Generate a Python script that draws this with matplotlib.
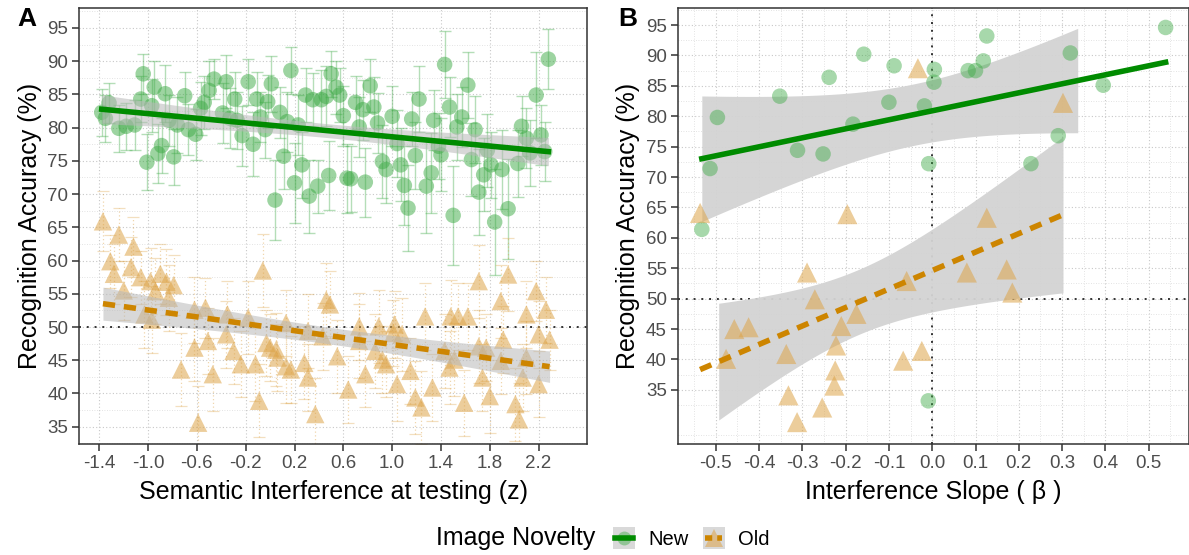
import numpy as np
import matplotlib
matplotlib.use("Agg")
import matplotlib.pyplot as plt
from matplotlib.patches import Rectangle
from matplotlib.lines import Line2D
from matplotlib.legend_handler import HandlerBase

plt.rcParams['font.family'] = ['Liberation Sans', 'DejaVu Sans']

# ---- panel A: item-level accuracy vs semantic interference ----
new_x = [-1.38, -1.32, -1.35, -1.24, -1.18, -1.11, -1.06, -1.04, -1.01, -0.97,
         -0.95, -0.92, -0.89, -0.86, -0.83, -0.79, -0.76, -0.70, -0.67, -0.61,
         -0.57, -0.54, -0.50, -0.46, -0.39, -0.36, -0.33, -0.29, -0.27, -0.23,
         -0.18, -0.14, -0.11, -0.08, -0.04, -0.02, 0.01, 0.04, 0.08, 0.11,
         0.14, 0.17, 0.20, 0.23, 0.26, 0.29, 0.32, 0.35, 0.39, 0.42,
         0.46, 0.48, 0.50, 0.54, 0.57, 0.60, 0.63, 0.66, 0.70, 0.73,
         0.76, 0.78, 0.82, 0.85, 0.88, 0.92, 0.95, 1.00, 1.04, 1.07,
         1.10, 1.13, 1.16, 1.19, 1.22, 1.28, 1.32, 1.34, 1.38, 1.40,
         1.43, 1.47, 1.50, 1.53, 1.57, 1.62, 1.65, 1.68, 1.71, 1.75,
         1.78, 1.81, 1.84, 1.90, 1.95, 2.03, 2.06, 2.10, 2.13, 2.18,
         2.22, 2.25, 2.28]
new_y = [82.3, 83.7, 81.4, 79.9, 80.2, 80.4, 84.3, 88.1, 74.8, 83.3,
         86.1, 76.1, 77.3, 85.1, 81.1, 75.6, 80.4, 84.8, 79.7, 79.0,
         82.9, 83.8, 85.6, 87.3, 82.2, 86.9, 81.4, 84.3, 81.1, 78.8,
         86.9, 77.5, 84.3, 81.6, 79.7, 83.9, 86.6, 69.1, 82.3, 75.7,
         80.9, 88.6, 71.7, 80.4, 74.4, 84.9, 69.7, 84.2, 71.2, 84.2,
         84.7, 72.8, 88.1, 86.1, 84.9, 81.8, 72.4, 72.3, 83.8, 80.1,
         82.7, 71.8, 86.3, 83.1, 80.7, 74.9, 73.7, 81.7, 77.6, 74.4,
         71.3, 67.9, 81.3, 75.8, 84.3, 71.2, 73.2, 81.1, 77.2, 75.9,
         89.5, 83.1, 66.8, 80.1, 81.6, 86.4, 75.2, 79.7, 70.3, 72.9,
         76.6, 74.4, 65.8, 73.7, 67.8, 74.6, 80.2, 78.4, 76.2, 84.9,
         78.9, 76.4, 90.3]
new_err = [3.5, 3.0, 3.5, 3.5, 3.5, 3.8, 3.5, 3.0, 4.2, 4.0,
           4.0, 4.5, 4.2, 4.3, 3.8, 4.2, 4.2, 3.5, 3.8, 3.8,
           4.0, 4.0, 4.5, 3.0, 4.5, 4.0, 4.5, 4.0, 4.3, 4.5,
           3.5, 4.8, 4.0, 3.8, 4.2, 4.0, 4.2, 6.0, 3.8, 5.0,
           4.5, 3.5, 6.0, 4.5, 5.0, 4.0, 5.5, 4.0, 4.0, 4.5,
           4.5, 5.2, 3.5, 4.0, 4.0, 4.5, 5.2, 5.0, 4.0, 4.5,
           4.5, 5.2, 4.0, 4.5, 4.5, 5.5, 5.0, 4.5, 5.0, 5.5,
           6.0, 6.5, 4.0, 5.0, 5.0, 7.0, 6.0, 4.5, 5.0, 5.5,
           5.0, 4.5, 7.5, 5.0, 4.5, 5.0, 5.5, 5.0, 6.5, 5.5,
           5.5, 5.0, 8.0, 6.0, 7.5, 5.0, 4.5, 4.5, 5.0, 6.5,
           4.5, 4.5, 4.5]

old_x = [-1.37, -1.24, -1.12, -0.06, -1.31, -1.28, -1.14, -1.06, -0.98, -0.90,
         -0.85, -0.79, -0.94, -1.20, -0.83, -0.62, -0.53, -0.35, -0.18, 0.13,
         0.46, 0.49, 1.27, 1.48, 1.54, 1.62, 1.89, 2.18, 2.10, 2.26,
         2.20, 2.29, 1.71, -0.62, -0.51, -0.73, -0.47, -0.30, -0.24, -0.12,
         -0.09, -0.59, -0.36, 0.06, 0.13, 0.17, 0.28, 0.31, 0.37, 0.55,
         0.64, 0.73, 0.78, 0.86, 0.95, 1.04, 1.15, 1.19, 1.24, 1.33,
         1.47, 1.59, 1.74, 1.80, 1.77, 1.91, 2.01, 2.04, 2.07, 2.20,
         1.95, 1.71, 0.73, 0.89, 1.01, 1.08, 0.43, 0.31, -0.03, 0.00,
         0.05, -1.03, -0.97, 1.43, 1.89, 2.10, 0.92, 1.51, 1.02]
old_y = [65.9, 63.9, 62.1, 58.5, 59.9, 58.0, 59.0, 57.5, 56.9, 58.0,
         56.8, 56.3, 55.4, 55.5, 54.4, 52.6, 52.9, 51.9, 51.4, 50.6,
         54.1, 53.4, 51.6, 51.6, 51.6, 51.6, 53.9, 55.4, 51.9, 52.6,
         48.9, 48.1, 47.1, 46.9, 47.9, 43.6, 42.9, 46.4, 44.4, 44.4,
         38.9, 35.6, 48.9, 45.4, 44.1, 43.6, 44.6, 42.4, 36.9, 45.6,
         40.6, 47.9, 42.9, 46.4, 44.4, 41.4, 43.4, 39.4, 37.9, 40.9,
         43.9, 38.6, 42.4, 39.6, 46.9, 48.1, 38.4, 36.1, 42.4, 41.4,
         57.9, 56.9, 50.1, 50.1, 49.1, 48.9, 48.6, 49.4, 47.6, 46.9,
         46.6, 51.9, 51.1, 46.4, 44.9, 45.4, 45.1, 45.1, 50.4]
old_err = [4.5, 4.0, 4.5, 5.5, 4.0, 4.5, 4.5, 4.0, 5.0, 4.5,
           5.0, 4.5, 5.0, 4.5, 5.0, 5.0, 4.5, 5.0, 5.5, 5.0,
           5.5, 5.0, 5.0, 5.5, 5.0, 5.0, 5.5, 4.5, 5.0, 5.0,
           5.0, 4.5, 5.5, 5.0, 5.0, 5.5, 5.5, 5.0, 5.0, 5.5,
           5.5, 5.5, 5.0, 5.0, 5.5, 5.0, 5.5, 5.0, 5.5, 5.5,
           5.0, 5.5, 5.0, 5.5, 5.0, 5.5, 5.0, 5.5, 5.5, 5.0,
           5.5, 5.0, 5.0, 5.5, 5.0, 5.0, 5.5, 5.5, 5.0, 5.0,
           5.5, 5.5, 5.0, 5.5, 5.0, 5.5, 5.0, 5.5, 5.0, 5.0,
           5.5, 5.0, 5.0, 5.5, 5.0, 5.5, 5.0, 5.5, 5.0]

# ---- panel B: participant slopes vs accuracy ----
b_new_x = [-0.532, -0.513, -0.496, -0.352, -0.311, -0.252, -0.238, -0.183, -0.158, -0.100,
           -0.088, -0.018, -0.008, 0.005, 0.004, 0.083, 0.100, 0.118, 0.126, 0.228,
           0.291, 0.319, 0.395, 0.539, -0.009]
b_new_y = [61.4, 71.4, 79.8, 83.3, 74.4, 73.8, 86.4, 78.7, 90.2, 82.3,
           88.3, 81.7, 72.2, 87.7, 85.6, 87.5, 87.5, 89.1, 93.2, 72.2,
           76.8, 90.4, 85.1, 94.6, 33.2]
b_old_x = [-0.033, -0.536, -0.196, 0.126, 0.302, -0.289, -0.271, -0.059, 0.080, 0.172,
           0.185, -0.457, -0.424, -0.476, -0.337, -0.210, -0.175, -0.222, -0.224, -0.226,
           -0.332, -0.254, -0.312, -0.067, -0.024]
b_old_y = [87.9, 64.1, 63.9, 63.3, 82.2, 54.3, 49.9, 52.9, 54.3, 54.8,
           51.0, 45.0, 45.3, 40.1, 40.9, 45.5, 47.5, 42.3, 38.2, 35.7,
           34.1, 32.1, 29.7, 39.8, 41.4]
# x-extent of the confidence bands as drawn in panel B
b_new_band = (-0.532, 0.336)
b_old_band = (-0.493, 0.302)

GREEN_PT = '#3DAA45'
GREEN_LN = '#008B00'
ORANGE_PT = '#DDA449'
ORANGE_LN = '#CD8500'
BAND = '#B8B8B8'
DASH = (2.2, 1.6)


def t95(df):
    z = 1.959964
    return (z + (z**3 + z) / (4 * df)
            + (5 * z**5 + 16 * z**3 + 3 * z) / (96 * df**2))


def fit_band(x, y, xs):
    x = np.asarray(x, float)
    y = np.asarray(y, float)
    b, a = np.polyfit(x, y, 1)
    n = len(x)
    resid = y - (a + b * x)
    s = np.sqrt(np.sum(resid**2) / (n - 2))
    sxx = np.sum((x - x.mean())**2)
    se = s * np.sqrt(1.0 / n + (xs - x.mean())**2 / sxx)
    fit = a + b * xs
    return fit, fit - t95(n - 2) * se, fit + t95(n - 2) * se


def fmt(v):
    v = round(float(v), 1)
    return '%.1f' % (0.0 if abs(v) < 1e-9 else v)


def style(ax, xt, xlim, yt, ylim, xminor, yminor):
    ax.set_xlim(*xlim)
    ax.set_ylim(*ylim)
    ax.set_xticks(xt)
    ax.set_xticklabels([fmt(v) for v in xt])
    ax.set_yticks(yt)
    ax.set_xticks(xminor, minor=True)
    ax.set_yticks(yminor, minor=True)
    ax.tick_params(which='minor', length=0)
    ax.tick_params(which='major', length=5, width=1.1, color='#333333',
                   labelcolor='#4D4D4D', labelsize=13.5, pad=3)
    ax.grid(True, which='major', color='#C8C8C8', linestyle=(0, (1, 2)), linewidth=0.8)
    ax.grid(True, which='minor', color='#DADADA', linestyle=(0, (1, 2)), linewidth=0.6)
    ax.set_axisbelow(True)
    for sp in ax.spines.values():
        sp.set_color('#333333')
        sp.set_linewidth(1.1)
    ax.set_ylabel('Recognition Accuracy (%)', fontsize=18, labelpad=4)


class KeyHandler(HandlerBase):
    """grey key box with a point and a fit line, like a ggplot legend key"""

    def __init__(self, marker, mcolor, malpha, msize, lcolor, dashes):
        super().__init__()
        self.marker, self.mcolor, self.malpha = marker, mcolor, malpha
        self.msize, self.lcolor, self.dashes = msize, lcolor, dashes

    def create_artists(self, legend, orig_handle, xdescent, ydescent,
                       width, height, fontsize, trans):
        side = min(width, height)
        x0 = -xdescent + (width - side) / 2
        y0 = -ydescent + (height - side) / 2
        box = Rectangle((x0, y0), side, side, facecolor='#D9D9D9',
                        edgecolor='none', transform=trans)
        cx, cy = x0 + side / 2, y0 + side / 2
        pt = Line2D([cx], [cy], marker=self.marker, color=self.mcolor,
                    alpha=self.malpha, markersize=self.msize, linestyle='none',
                    markeredgewidth=0, transform=trans)
        ln = Line2D([x0 + 0.1 * side, x0 + 0.9 * side], [cy, cy], color=self.lcolor,
                    linewidth=4, transform=trans)
        if self.dashes:
            ln.set_dashes(self.dashes)
        return [box, pt, ln]


fig = plt.figure(figsize=(11.89, 5.55), dpi=100)
W, H = 1189.0, 555.0
axA = fig.add_axes([79.4 / W, 1 - 444 / H, 508 / W, 436 / H])
axB = fig.add_axes([678 / W, 1 - 444 / H, 511 / W, 436 / H])

# panel A
axA.axhline(50, color='#333333', linestyle=(0, (1, 3)), linewidth=1.4, zorder=1)
axA.errorbar(new_x, new_y, yerr=new_err, fmt='none', ecolor=GREEN_PT, alpha=0.38,
             elinewidth=1.0, capsize=4, capthick=1.0, zorder=2)
eb = axA.errorbar(old_x, old_y, yerr=old_err, fmt='none', ecolor=ORANGE_PT, alpha=0.45,
                  elinewidth=0.9, capsize=4, capthick=0.9, zorder=2)
for lc in eb[2]:
    lc.set_linestyle((0, (1, 2)))
for cap in eb[1]:
    cap.set_alpha(0.35)
axA.scatter(new_x, new_y, s=125, color=GREEN_PT, alpha=0.5, edgecolor='none', zorder=3)
axA.scatter(old_x, old_y, s=175, marker='^', color=ORANGE_PT, alpha=0.55,
            edgecolor='none', zorder=3)
for xs_, ys_, col, ls in [(new_x, new_y, GREEN_LN, '-'), (old_x, old_y, ORANGE_LN, '--')]:
    xs = np.linspace(min(xs_), max(xs_), 100)
    fit, lo, hi = fit_band(xs_, ys_, xs)
    axA.fill_between(xs, lo, hi, color=BAND, alpha=0.55, linewidth=0, zorder=4)
    axA.plot(xs, fit, color=col, linewidth=4,
             dashes=DASH if ls == '--' else (None, None), zorder=5)

style(axA, np.arange(-1.4, 2.21, 0.4), (-1.563, 2.484),
      np.arange(35, 96, 5), (32.4, 98.0),
      np.arange(-1.6, 2.5, 0.4) + 0.2, np.arange(32.5, 98, 5))
axA.set_xlabel('Semantic Interference at testing (z)', fontsize=18, labelpad=6)

# panel B
axB.axhline(50, color='#333333', linestyle=(0, (1, 3)), linewidth=1.4, zorder=1)
axB.axvline(0, color='#333333', linestyle=(0, (1, 3)), linewidth=1.4, zorder=1)
for xs_, ys_, band in [(b_new_x, b_new_y, b_new_band), (b_old_x, b_old_y, b_old_band)]:
    xb = np.linspace(band[0], band[1], 100)
    _, lo, hi = fit_band(xs_, ys_, xb)
    axB.fill_between(xb, lo, hi, color='#D3D3D3', alpha=0.95, linewidth=0, zorder=2)
axB.scatter(b_new_x, b_new_y, s=125, color=GREEN_PT, alpha=0.45, edgecolor='none', zorder=3)
axB.scatter(b_old_x, b_old_y, s=210, marker='^', color=ORANGE_PT, alpha=0.55,
            edgecolor='none', zorder=3)
for xs_, ys_, col, ls in [(b_new_x, b_new_y, GREEN_LN, '-'), (b_old_x, b_old_y, ORANGE_LN, '--')]:
    xs = np.linspace(min(xs_), max(xs_), 100)
    fit, _, _ = fit_band(xs_, ys_, xs)
    axB.plot(xs, fit, color=col, linewidth=4,
             dashes=DASH if ls == '--' else (None, None), zorder=5)

style(axB, np.arange(-0.5, 0.51, 0.1), (-0.587, 0.593),
      np.arange(35, 96, 5), (26.1, 97.8),
      np.arange(-0.55, 0.6, 0.1), np.arange(27.5, 98, 5))
axB.set_xlabel('Interference Slope ( \u03b2 )', fontsize=18, labelpad=6)

fig.text(17 / W, 1 - 19 / H, 'A', fontsize=19, fontweight='bold', va='center', ha='left')
fig.text(618 / W, 1 - 19 / H, 'B', fontsize=19, fontweight='bold', va='center', ha='left')

# legend
fig.text(436 / W, 1 - 538 / H, 'Image Novelty', fontsize=18, va='center', ha='left')
h_new = Rectangle((0, 0), 1, 1)
h_old = Rectangle((0, 0), 1, 1)
fig.legend([h_new, h_old], ['New', 'Old'], ncol=2, frameon=False,
           loc='center left', bbox_to_anchor=(611 / W, 1 - 538 / H),
           handler_map={h_new: KeyHandler('o', GREEN_PT, 0.45, 10, GREEN_LN, None),
                        h_old: KeyHandler('^', ORANGE_PT, 0.55, 13, ORANGE_LN, (1.3, 0.9))},
           handlelength=1.3, handleheight=1.3, handletextpad=0.55,
           columnspacing=0.6, fontsize=14.5, borderpad=0, borderaxespad=0)

fig.savefig('out.png', dpi=100)
